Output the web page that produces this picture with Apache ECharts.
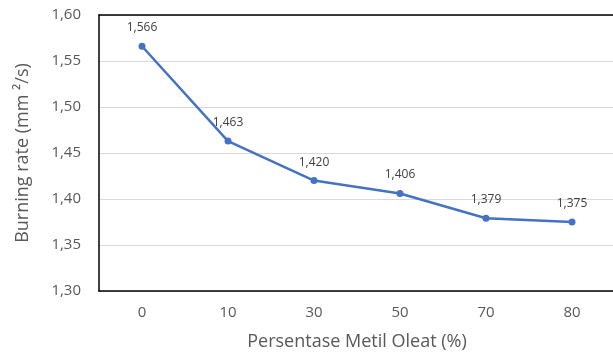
<!DOCTYPE html>
<html><head><meta charset="utf-8">
<script src="https://cdn.jsdelivr.net/npm/echarts@6/dist/echarts.min.js"></script>
<style>html,body{margin:0;padding:0;background:#fff}#c{width:613px;height:353px}</style>
</head><body><div id="c"></div>
<script>
const categories = ['0', '10', '30', '50', '70', '80'];
const burningRate = [1.566, 1.463, 1.420, 1.406, 1.379, 1.375];
const yTicks = [1.30, 1.35, 1.40, 1.45, 1.50, 1.55, 1.60];
const xTitle = 'Persentase Metil Oleat (%)';
const yTitle = 'Burning rate (mm \u00B2/s)';

const fmt = (v, d) => v.toFixed(d).replace('.', ',');
const chart = echarts.init(document.getElementById('c'));
chart.setOption({
  animation: false,
  textStyle: { fontFamily: 'Open Sans' },
  grid: { left: 99, top: 15, width: 516, height: 276, outerBoundsMode: 'none', containLabel: false },
  xAxis: [{
    type: 'category', data: categories, boundaryGap: true,
    axisLine: { lineStyle: { color: '#000', width: 1.5 } },
    axisTick: { show: false },
    axisLabel: { color: '#595959', fontSize: 15, margin: 14, fontFamily: 'Open Sans' },
    name: xTitle, nameLocation: 'middle', nameGap: 42,
    nameTextStyle: { color: '#595959', fontSize: 18, fontFamily: 'Open Sans' }
  }, {
    type: 'category', data: categories, position: 'top',
    axisLine: { lineStyle: { color: '#000', width: 1.5 } },
    axisTick: { show: false }, axisLabel: { show: false }
  }],
  yAxis: {
    type: 'value', min: yTicks[0], max: yTicks[yTicks.length - 1], interval: 0.05,
    axisLine: { show: true, lineStyle: { color: '#000', width: 1.5 } },
    axisTick: { show: false },
    splitLine: { lineStyle: { color: '#d9d9d9', width: 1 } },
    axisLabel: { color: '#595959', fontSize: 15, margin: 18, formatter: v => fmt(v, 2), fontFamily: 'Open Sans' },
    name: yTitle, nameLocation: 'middle', nameGap: 67,
    nameTextStyle: { color: '#595959', fontSize: 18, fontFamily: 'Open Sans' }
  },
  series: [{
    type: 'line', data: burningRate, xAxisIndex: 0,
    lineStyle: { color: '#4472C4', width: 2.5 },
    itemStyle: { color: '#4472C4' },
    symbol: 'circle', symbolSize: 7,
    label: { show: true, position: 'top', distance: 9, color: '#404040', fontSize: 12,
      fontFamily: 'Open Sans', formatter: p => fmt(p.value, 3) }
  }]
});
</script></body></html>
